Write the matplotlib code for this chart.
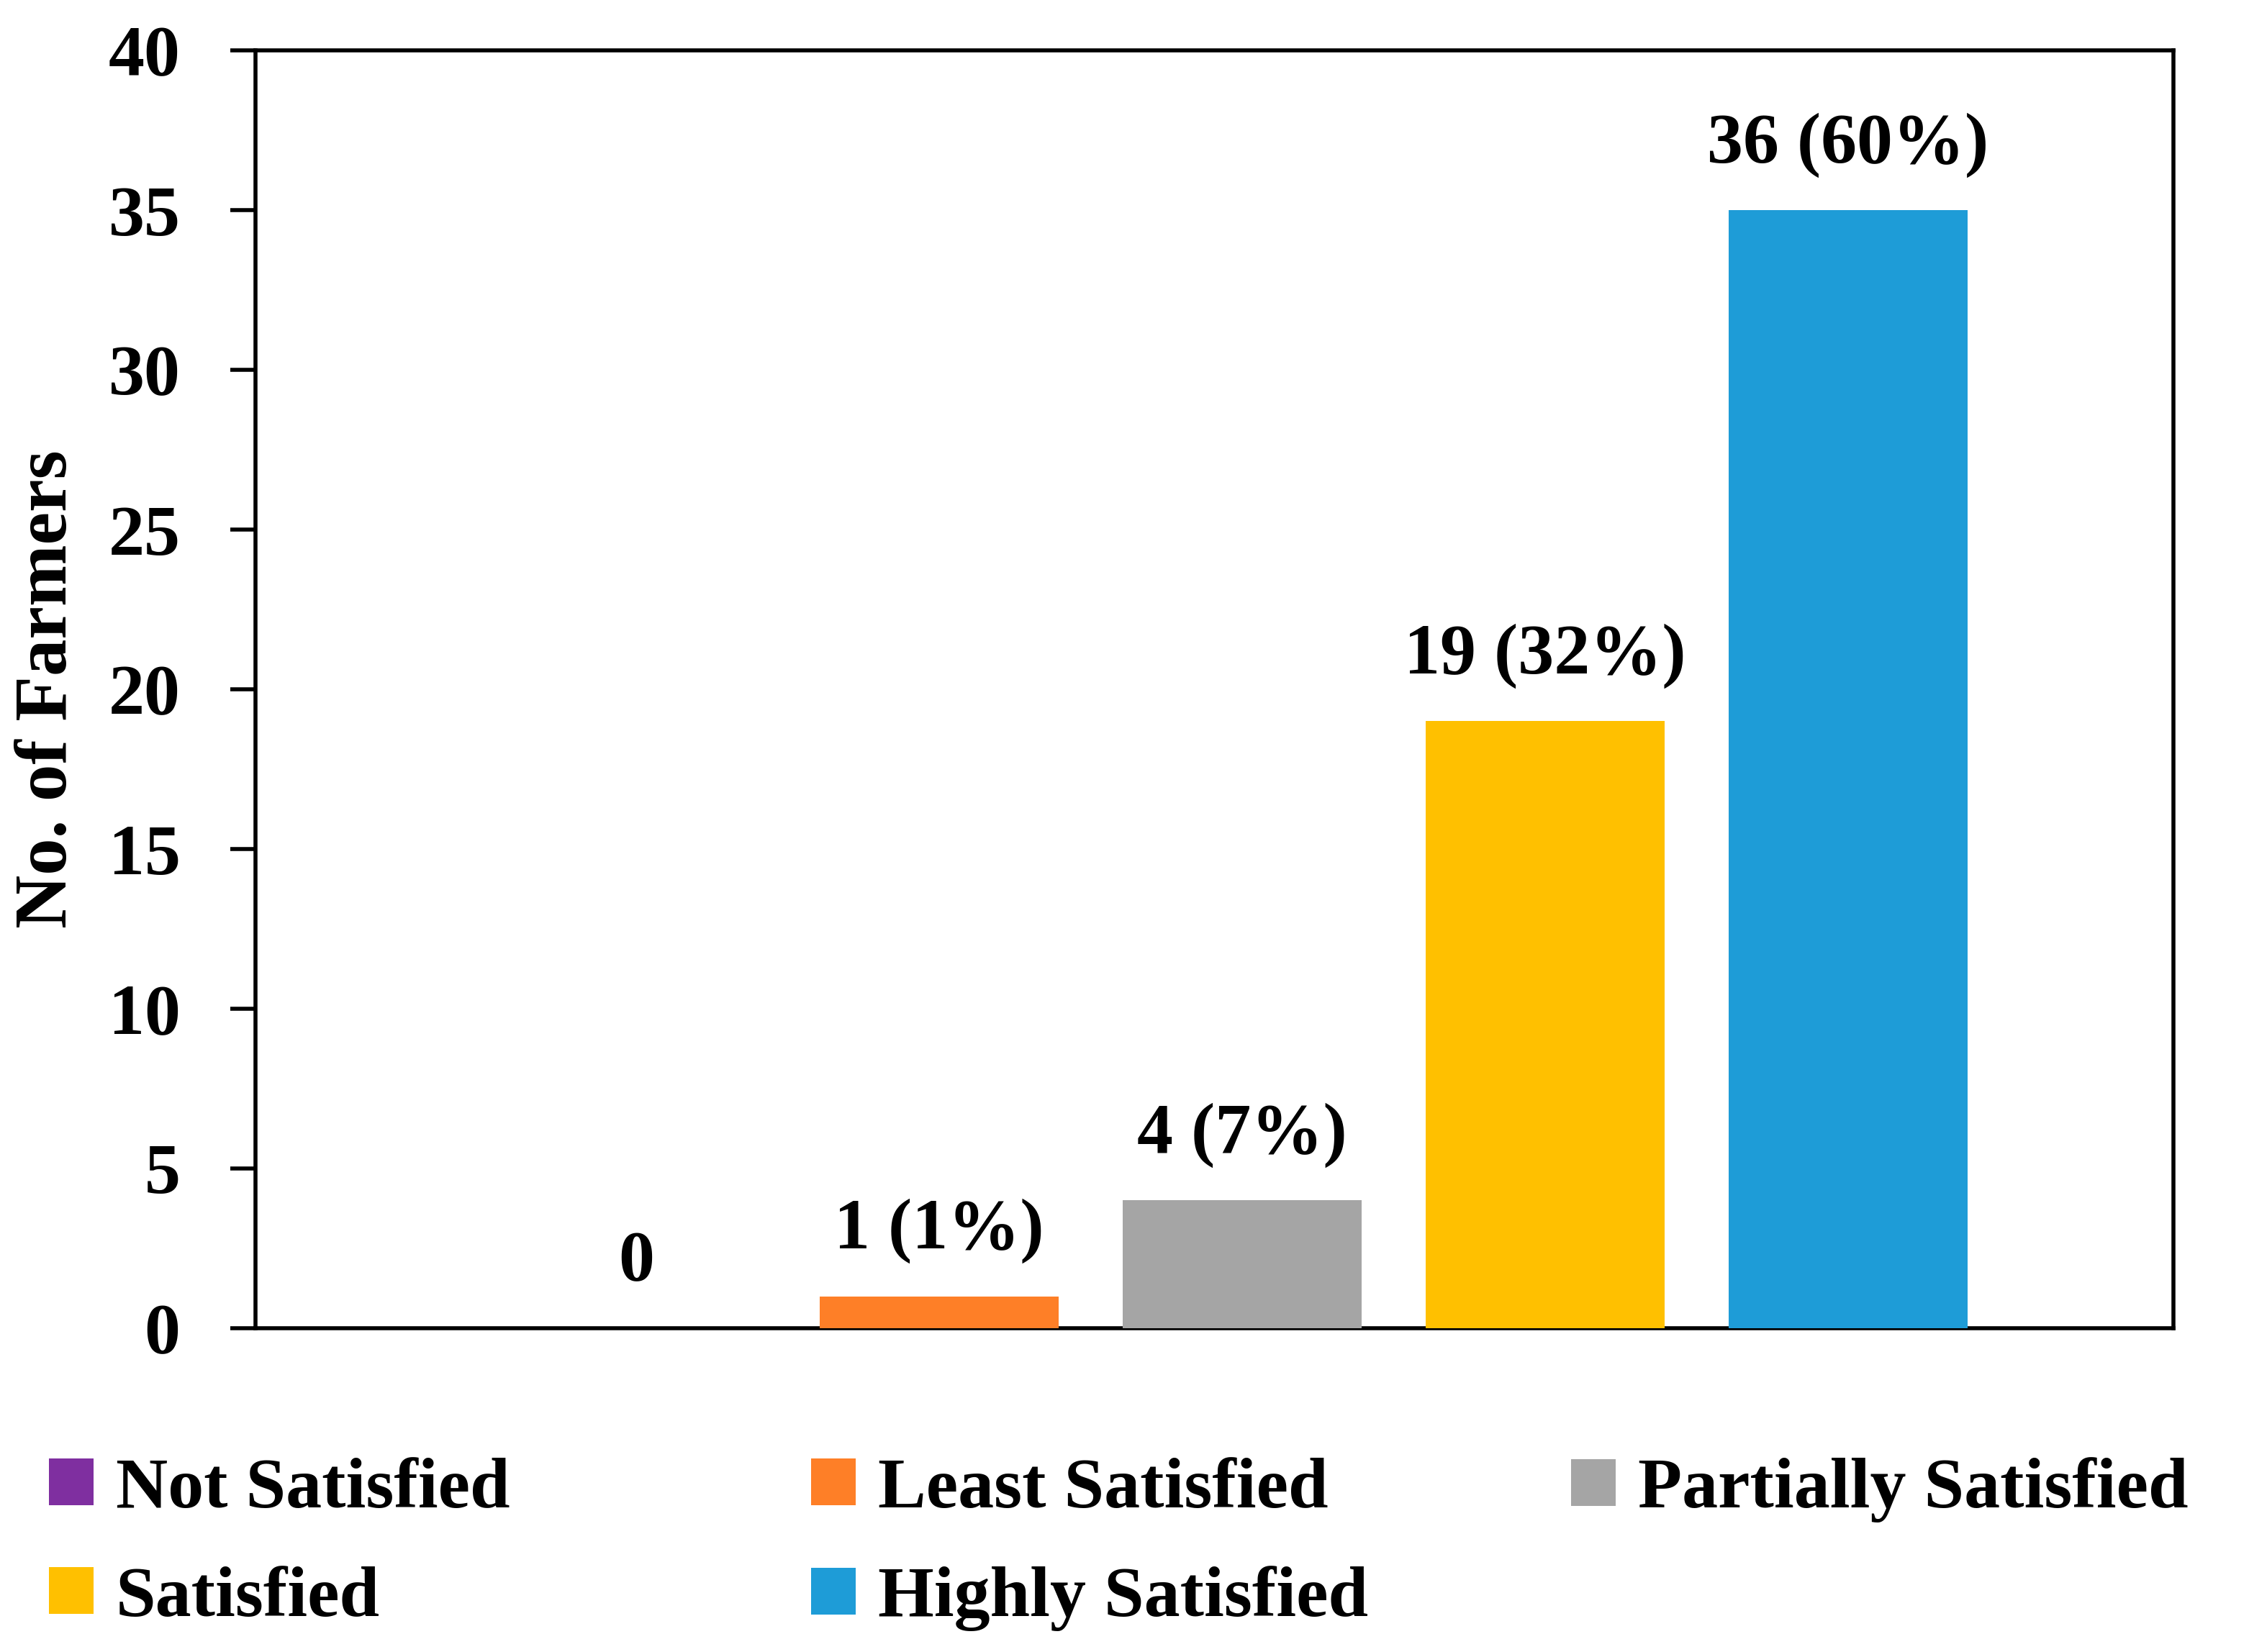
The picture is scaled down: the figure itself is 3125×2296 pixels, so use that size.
import matplotlib
matplotlib.use('Agg')

import numpy as np
import matplotlib.pyplot as plt
from matplotlib.patches import Patch

categories = ['Not Satisfied', 'Least Satisfied', 'Partially Satisfied',
              'Satisfied', 'Highly Satisfied']
farmers = [0, 1, 4, 19, 35]
bar_labels = ['0', '1 (1%)', '4 (7%)', '19 (32%)', '36 (60%)']
colors = ['#7F2FA0', '#FE7F27', '#A5A5A5', '#FFC000', '#1E9CD7']
yticks = [0, 5, 10, 15, 20, 25, 30, 35, 40]

plt.rcParams['font.family'] = ['Liberation Serif', 'DejaVu Serif']
plt.rcParams['font.weight'] = 'bold'
fs = 36

fig = plt.figure(figsize=(15.625, 11.48), dpi=200)
ax = fig.add_axes([0.1136, 0.196, 0.9664 - 0.1136, 0.9695 - 0.196])

x = np.arange(len(categories))
bars = ax.bar(x, farmers, width=0.79, color=colors, zorder=1)

for xi, v, lab in zip(x, farmers, bar_labels):
    ax.annotate(lab, (xi, v), xytext=(0, 24), textcoords='offset points',
                ha='center', va='baseline', fontsize=fs, fontweight='bold')

ax.set_xlim(-1.257, 5.074)
ax.set_ylim(0, 40)
ax.set_yticks(yticks)
ax.set_xticks([])
ax.tick_params(axis='y', direction='out', length=12.6, width=2.0, pad=25,
               labelsize=fs)
for lab in ax.get_yticklabels():
    lab.set_fontweight('bold')
for s in ax.spines.values():
    s.set_linewidth(2.0)
    s.set_zorder(0.5)

ax.set_ylabel('No. of Farmers', fontsize=37, fontweight='bold')
ax.yaxis.set_label_coords(-0.0905, 0.5)

handles = [Patch(facecolor=c, edgecolor='none') for c in colors]
# legend laid out row by row in three fixed-width columns
cols = [[0, 3], [1, 4], [2]]
col_x = [0.0218, 0.3606, 0.6986]
for idx, cx in zip(cols, col_x):
    leg = fig.legend([handles[i] for i in idx], [categories[i] for i in idx],
                     loc='upper left', bbox_to_anchor=(cx, 0.1178),
                     frameon=False, borderpad=0, borderaxespad=0,
                     handlelength=0.62, handleheight=0.62, handletextpad=0.31,
                     labelspacing=0.61, prop={'size': fs, 'weight': 'bold'})

fig.savefig('out.png', dpi=200)
